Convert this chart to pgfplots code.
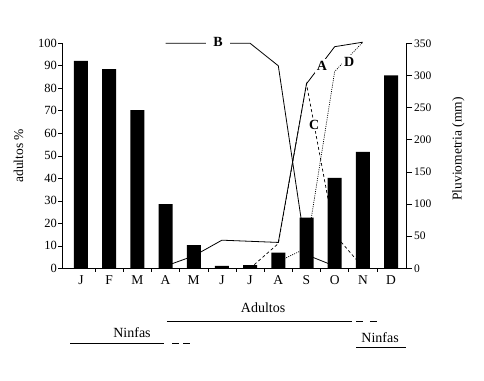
\documentclass[border=0pt]{standalone}
\usepackage{fontspec}
\setmainfont{Liberation Serif}
\usepackage{pgfplots}
\pgfplotsset{compat=1.18}
\begin{document}
\begin{tikzpicture}[x=1pt,y=1pt]
\useasboundingbox (-62,-111.7) rectangle (422,268.3);
\begin{axis}[
  scale only axis, width=344pt, height=225pt,
  xmin=-0.674, xmax=11.53, ymin=0, ymax=100,
  clip=false,
  axis x line*=bottom, axis y line*=left,
  xtick={0.5,1.5,...,10.5}, xticklabels={},
  extra x ticks={0,1,2,3,4,5,6,7,8,9,10,11},
  extra x tick labels={J,F,M,A,M,J,J,A,S,O,N,D},
  extra x tick style={tick style={draw=none}},
  ytick={0,10,...,100},
  tick align=outside, major tick length=3.5pt,
  tick style={black, line width=0.6pt},
  axis line style={line width=0.8pt},
  /pgf/number format/assume math mode=true,
  yticklabel style={font=\fontsize{12.5}{12.5}\selectfont, inner sep=1.5pt},
  xticklabel style={font=\fontsize{13.5}{13.5}\selectfont},
]
\addplot[black, line width=0.8pt] coordinates {(3,1)(4,5.5)(5,12.5)(6,12)(7,11.5)(8,82)(9,98.5)(10,100.5)};
\addplot[black, line width=0.8pt] coordinates {(3,100)(4,100)(5,100)(6,100)(7,90)(8,6)(9,1)};
\addplot[black, line width=0.7pt, dash pattern=on 3pt off 2.5pt] coordinates {(6,0)(7,11)(8,82)(9,15)(10,0.5)};
\addplot[black, line width=0.7pt, dash pattern=on 1pt off 1.2pt] coordinates {(7,3)(8,9)(9,87.5)(10,100.5)};
\node[font=\bfseries\fontsize{14}{14}\selectfont, fill=white, inner xsep=7pt, inner ysep=1.5pt] at (axis cs:4.86,100.6) {B};
\node[font=\bfseries\fontsize{14}{14}\selectfont, fill=white, inner sep=2pt] at (axis cs:8.55,89.9) {A};
\node[font=\bfseries\fontsize{14}{14}\selectfont, fill=white, inner sep=2pt] at (axis cs:9.51,91.7) {D};
\node[font=\bfseries\fontsize{14}{14}\selectfont, fill=white, inner sep=1.5pt] at (axis cs:8.27,63.7) {C};
\node[rotate=90, font=\fontsize{13.5}{13.5}\selectfont] at (axis cs:-2.218,50) {adultos \%};
\node[rotate=90, font=\fontsize{13.5}{13.5}\selectfont] at (axis cs:13.39,53) {Pluviometria (mm)};
% bottom annotations
\node[font=\fontsize{14}{14}\selectfont] at (axis cs:6.46,-17.5) {Adultos};
\draw[line width=0.7pt] (axis cs:3.05,-23.7) -- (axis cs:9.62,-23.7);
\draw[line width=0.7pt] (axis cs:9.76,-23.7) -- (axis cs:10.0,-23.7);
\draw[line width=0.7pt] (axis cs:10.25,-23.7) -- (axis cs:10.5,-23.7);
\node[font=\fontsize{14}{14}\selectfont] at (axis cs:1.81,-28.5) {Ninfas};
\draw[line width=0.7pt] (axis cs:-0.39,-33.3) -- (axis cs:2.95,-33.3);
\draw[line width=0.7pt] (axis cs:3.23,-33.3) -- (axis cs:3.48,-33.3);
\draw[line width=0.7pt] (axis cs:3.62,-33.3) -- (axis cs:3.87,-33.3);
\node[font=\fontsize{14}{14}\selectfont] at (axis cs:10.61,-30.8) {Ninfas};
\draw[line width=0.7pt] (axis cs:9.76,-35.3) -- (axis cs:11.53,-35.3);
\end{axis}
\begin{axis}[
  scale only axis, width=344pt, height=225pt,
  xmin=-0.674, xmax=11.53, ymin=0, ymax=350,
  axis y line*=right, axis x line=none,
  ytick={0,50,...,350},
  tick align=outside, major tick length=6pt,
  tick style={black, line width=0.6pt},
  axis line style={line width=0.8pt},
  /pgf/number format/assume math mode=true,
  yticklabel style={font=\fontsize{11.5}{11.5}\selectfont, inner sep=2pt},
]
\addplot[ybar, bar width=14pt, fill=black, draw=none] coordinates {(0,322.5)(1,310)(2,246)(3,100)(4,36)(5,3.6)(6,5)(7,24.5)(8,79)(9,140.5)(10,181)(11,300)};
\end{axis}
\end{tikzpicture}
\end{document}
